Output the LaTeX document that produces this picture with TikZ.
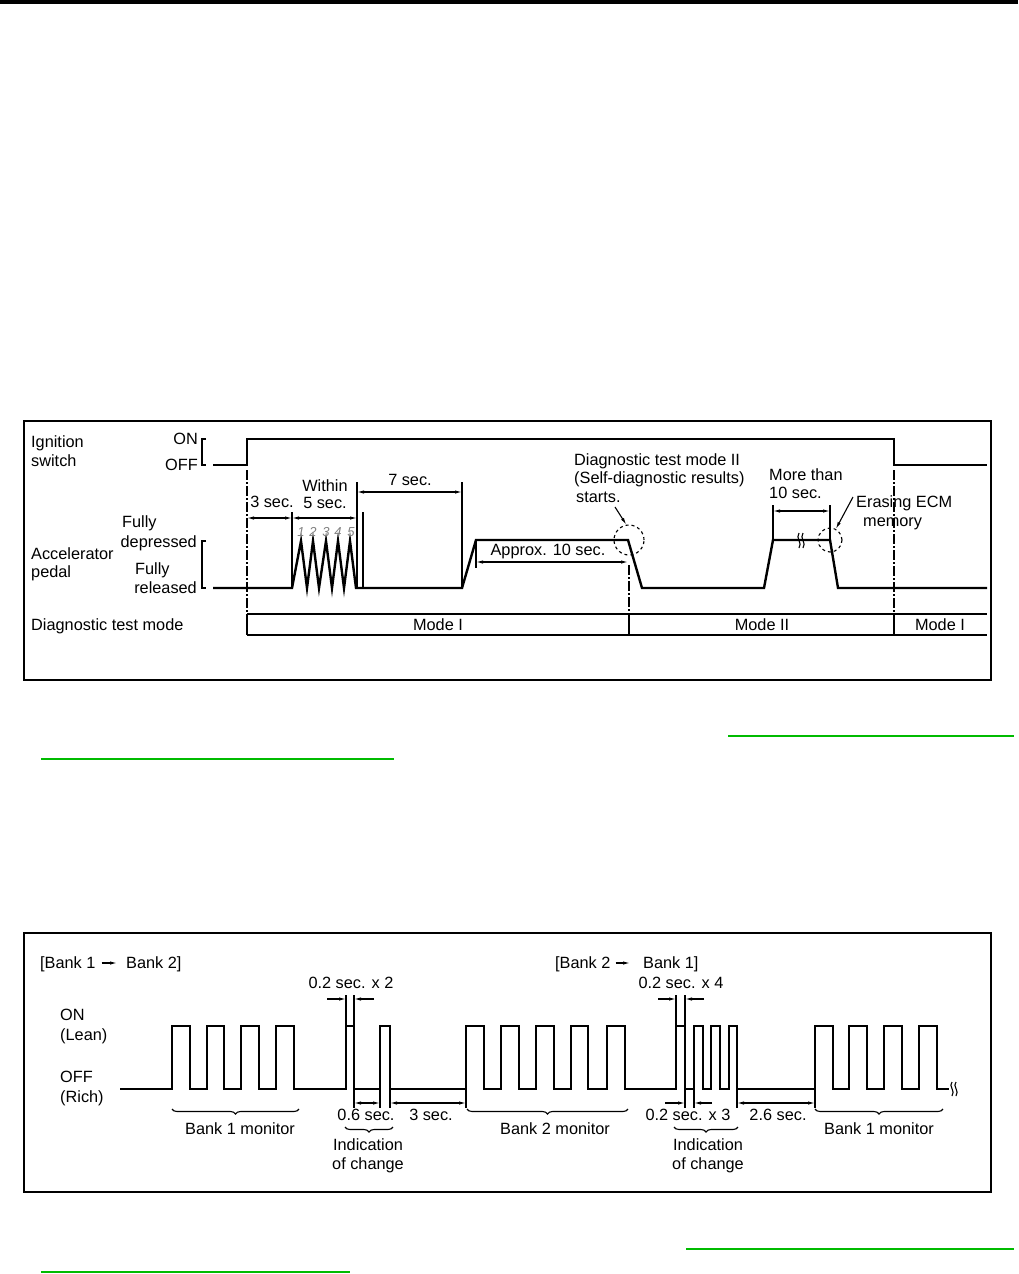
\documentclass[tikz,border=0pt]{standalone}
\usepackage{fontspec}
\setmainfont{Liberation Sans}
\usetikzlibrary{arrows.meta,decorations.pathreplacing}
\definecolor{linkgreen}{RGB}{0,187,0}
\tikzset{
  lbl/.style={inner sep=0pt,text height=11.8pt,text depth=0pt,font=\fontsize{16.3}{19}\selectfont},
  digit/.style={inner sep=0pt,text=gray,font=\fontsize{13}{13}\selectfont\itshape},
  wave/.style={line width=2.4pt,line join=miter},
  thin line/.style={line width=1.1pt},
  dim/.style={thin line,{Latex[length=7pt,width=3.4pt]}-{Latex[length=7pt,width=3.4pt]}},
  dimto/.style={thin line,-{Latex[length=7pt,width=3.4pt]}},
  chain/.style={thin line,dash pattern=on 10pt off 2pt on 2pt off 2pt},
  boxline/.style={line width=1.8pt},
  ring/.style={circle,draw,thin line,dashed,inner sep=0pt},
  brace down/.style={thin line,decorate,decoration={brace,mirror,amplitude=5pt}}
}
\begin{document}
\begin{tikzpicture}[x=1pt,y=-1pt]
\useasboundingbox (0,0) rectangle (1018,1274);
\fill (0,0) rectangle (1018,4);
\draw[linkgreen,line width=1.5pt] (728,736) -- (1014,736) (41,759) -- (394,759);
\draw[linkgreen,line width=1.5pt] (686,1249) -- (1014,1249) (41,1272) -- (350,1272);

% ---- pedal / ignition timing
\draw[boxline] (24,421) rectangle (991,680);
\path (31,442) node[lbl,anchor=west] (ign1) {Ignition}
      (31,461) node[lbl,anchor=west] (ign2) {switch}
      (198,439) node[lbl,anchor=east] (on) {ON}
      (198,465) node[lbl,anchor=east] (off) {OFF}
      (122,522) node[lbl,anchor=west] (fd1) {Fully}
      (197,542) node[lbl,anchor=east] (fd2) {depressed}
      (31,554) node[lbl,anchor=west] (acc1) {Accelerator}
      (31,572) node[lbl,anchor=west] (acc2) {pedal}
      (135,569) node[lbl,anchor=west] (fr1) {Fully}
      (197,588) node[lbl,anchor=east] (fr2) {released}
      (31,625) node[lbl,anchor=west] (dtm) {Diagnostic test mode};
\draw[thin line] (206,439) -- (202,439) -- (202,465) -- (206,465);
\draw[thin line] (206,541) -- (202,541) -- (202,588) -- (206,588);

\draw[wave] (213,465) -- (247,465) -- (247,439) -- (894,439) -- (894,465) -- (987,465);
\draw[wave] (213,588) -- (292,588) -- (301,541) -- (307,588) -- (313,541) -- (319,588)
  -- (326,541) -- (332,588) -- (338,541) -- (344,588) -- (350,541) -- (356,588)
  -- (462,588) -- (476,540) -- (628,540) -- (642,588) -- (764,588) -- (773,540)
  -- (830,540) -- (838,588) -- (987,588);
\foreach \x [count=\n] in {301,313,326,338,351}
  \node[digit] (d\n) at (\x,532) {\n};
\draw[thin line] (799,533) .. controls (795,538) and (803,543) .. (799,548)
                 (803,533) .. controls (799,538) and (807,543) .. (803,548);

\draw[chain] (247,470) -- (247,614);
\draw[chain] (629,565) -- (629,614);
\draw[chain] (894,470) -- (894,614);

% dimensions
\draw[thin line] (292,512) -- (292,588) (357,482) -- (357,588) (363,512) -- (363,588)
                 (462,482) -- (462,588) (476,540) -- (476,568)
                 (773,505) -- (773,540) (830,505) -- (830,540);
\draw[dim] (247,518) -- (292,518);
\draw[dim] (292,518) -- (357,518);
\draw[dim] (357,492) -- (462,492);
\draw[dim] (476,562) -- (628,562);
\draw[dim] (773,511) -- (830,511);
\path (272,502) node[lbl] (s3) {3 sec.}
      (325,486) node[lbl] (w5a) {Within}
      (325,503) node[lbl] (w5b) {5 sec.}
      (410,480) node[lbl] (s7) {7 sec.}
      (548,550) node[lbl,fill=white,inner sep=1pt] (ap10) {Approx. 10 sec.}
      (769,475) node[lbl,anchor=west] (mt1) {More than}
      (769,493) node[lbl,anchor=west] (mt2) {10 sec.}
      (574,460) node[lbl,anchor=west] (dm1) {Diagnostic test mode II}
      (574,478) node[lbl,anchor=west] (dm2) {(Self-diagnostic results)}
      (576,497) node[lbl,anchor=west] (dm3) {starts.}
      (856,502) node[lbl,anchor=west] (er1) {Erasing ECM}
      (863,521) node[lbl,anchor=west] (er2) {memory};
\node[ring,minimum size=30pt] (c1) at (629,540) {};
\node[ring,minimum size=24pt] (c2) at (830,540) {};
\coordinate (p1) at (615,507);
\coordinate (p2) at (853,497);
\draw[dimto] (p1) -- (c1.100);
\draw[dimto] (p2) -- (c2.62);

\draw[boxline] (247,614) -- (987,614) (247,635) -- (987,635)
   (247,614) -- (247,635) (629,614) -- (629,635) (894,614) -- (894,635);
\path (438,625) node[lbl] (m1) {Mode I}
      (762,625) node[lbl] (m2) {Mode II}
      (940,625) node[lbl] (m3) {Mode I};

% ---- O2 sensor switching
\draw[boxline] (24,933) rectangle (991,1192);
\path (40,963) node[lbl,anchor=west] (bka) {[Bank 1}
      (126,963) node[lbl,anchor=west] (bkb) {Bank 2]}
      (555,963) node[lbl,anchor=west] (bkc) {[Bank 2}
      (643,963) node[lbl,anchor=west] (bkd) {Bank 1]}
      (60,1015) node[lbl,anchor=west] (on2) {ON}
      (60,1035) node[lbl,anchor=west] (lean) {(Lean)}
      (60,1077) node[lbl,anchor=west] (off2) {OFF}
      (60,1097) node[lbl,anchor=west] (rich) {(Rich)};
\draw[dimto,shorten <=6pt,shorten >=9pt] (bka.east) -- (bkb.west);
\draw[dimto,shorten <=5pt,shorten >=13pt] (bkc.east) -- (bkd.west);

\draw[wave] (120,1089)
  foreach \a/\b in {172/190,207/224,241/259,276/294,346/354,380/390,
                    466/484,501/519,536/554,571/588,607/625,
                    676/685,694/703,711/720,729/737,
                    815/833,849/867,884/902,919/937}
  { -- (\a,1089) -- (\a,1026) -- (\b,1026) -- (\b,1089) } -- (949,1089);
\draw[thin line] (952,1082) .. controls (948,1086) and (956,1091) .. (952,1096)
                 (956,1082) .. controls (952,1086) and (960,1091) .. (956,1096);

\draw[thin line] (346,995) -- (346,1026) (354,995) -- (354,1026)
                 (676,995) -- (676,1026) (685,995) -- (685,1026)
                 (354,1089) -- (354,1108) (380,1089) -- (380,1108)
                 (390,1089) -- (390,1108) (466,1089) -- (466,1108)
                 (685,1089) -- (685,1108) (694,1089) -- (694,1108)
                 (737,1089) -- (737,1108) (815,1089) -- (815,1108);
\draw[dimto] (327,999) -- (346,999);
\draw[dimto] (374,999) -- (354,999);
\draw[dimto] (658,999) -- (676,999);
\draw[dimto] (704,999) -- (685,999);
\draw[dimto] (665,1103) -- (685,1103);
\draw[dimto] (712,1103) -- (694,1103);
\draw[dim] (354,1103) -- (380,1103);
\draw[dim] (390,1103) -- (466,1103);
\draw[dim] (737,1103) -- (815,1103);
\path (351,983) node[lbl] (t22) {0.2 sec. x 2}
      (681,983) node[lbl] (t24) {0.2 sec. x 4}
      (366,1115) node[lbl] (t06) {0.6 sec.}
      (431,1115) node[lbl] (t3) {3 sec.}
      (688,1115) node[lbl] (t23) {0.2 sec. x 3}
      (778,1115) node[lbl] (t26) {2.6 sec.};

\draw[brace down] (172,1109) -- (299,1109);
\draw[brace down] (467,1109) -- (628,1109);
\draw[brace down] (815,1109) -- (943,1109);
\draw[brace down] (345,1127) -- (393,1127);
\draw[brace down] (674,1127) -- (738,1127);
\path (240,1129) node[lbl] (bm1) {Bank 1 monitor}
      (555,1129) node[lbl] (bm2) {Bank 2 monitor}
      (879,1129) node[lbl] (bm3) {Bank 1 monitor}
      (368,1145) node[lbl] (ic1) {Indication}
      (368,1164) node[lbl] (ic2) {of change}
      (708,1145) node[lbl] (ic3) {Indication}
      (708,1164) node[lbl] (ic4) {of change};
\end{tikzpicture}
\end{document}
